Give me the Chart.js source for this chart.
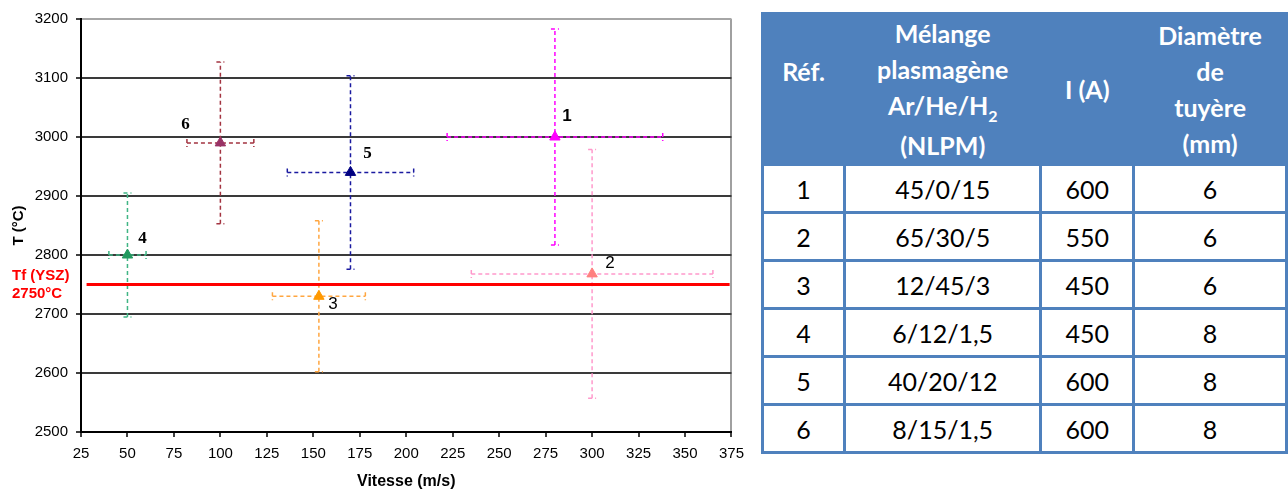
<!DOCTYPE html>
<html>
<head>
<meta charset="utf-8">
<script src="https://cdn.jsdelivr.net/npm/chart.js@4.4.1/dist/chart.umd.min.js"></script>
<style>
  html, body { margin: 0; padding: 0; background: #fff; }
  body { width: 1288px; height: 491px; position: relative; overflow: hidden; }
  #chart { position: absolute; left: 0; top: 0; }
  table { position: absolute; left: 761px; top: 12px; border-collapse: collapse; table-layout: fixed;
          font-family: Lato, sans-serif; font-size: 25px; }
  th, td { border: 3px solid #4F81BD; text-align: center; padding: 0; }
  th { background: #4F81BD; color: #fff; font-weight: bold; line-height: 36px; height: 144px; }
  td { height: 45px; color: #000; }
  .sub { font-size: 16px; position: relative; top: 7px; }
</style>
</head>
<body>
<canvas id="chart" width="752" height="491"></canvas>
<table id="refs">
  <colgroup><col style="width:83px"><col style="width:198px"><col style="width:94px"><col style="width:154px"></colgroup>
  <thead>
    <tr>
      <th>Réf.<br>&nbsp;</th>
      <th>Mélange<br>plasmagène<br>Ar/He/H<span class="sub">2</span><br>(NLPM)</th>
      <th>I (A)</th>
      <th>Diamètre<br>de<br>tuyère<br>(mm)</th>
    </tr>
  </thead>
  <tbody></tbody>
</table>
<script>
// essais (chart + table)
const refs = ['1', '2', '3', '4', '5', '6'];
const vitesse = [280, 300, 153, 50, 170, 100];          // m/s
const temperature = [3000, 2768, 2730, 2800, 2940, 2990]; // °C
const errVitesse = [58, 65, 25, 10, 34, 18];
const errTemp = [183, 211, 128, 105, 164, 137];

// fusion YSZ
const tfYsz = 2750;
const tfRange = [28, 374];
const tfLabels = ['Tf (YSZ)', '2750°C'];

// table columns
const melange = ['45/0/15', '65/30/5', '12/45/3', '6/12/1,5', '40/20/12', '8/15/1,5'];
const courant = [600, 550, 450, 450, 600, 600];
const diametre = [6, 6, 6, 8, 8, 8];

const markColors = ['#FF00FF', '#FF8080', '#FF9900', '#22995F', '#000080', '#993366'];
const barColors = ['#FF00FF', '#FF99CC', '#FFA640', '#40B585', '#1A1AA0', '#A33340'];

const arial = '"Liberation Sans", Arial, sans-serif';
const times = '"Liberation Serif", "Times New Roman", serif';
const labelStyle = [
  { dx: 12, dy: -21, font: 'bold 17px ' + arial },
  { dx: 18, dy: -11, font: '17px ' + arial },
  { dx: 14, dy: 8, font: '17px ' + arial },
  { dx: 15, dy: -16, font: 'bold 17px ' + times },
  { dx: 17, dy: -19, font: 'bold 17px ' + times },
  { dx: -35, dy: -18, font: 'bold 17px ' + times },
];

const tbody = document.querySelector('#refs tbody');
refs.forEach((r, i) => {
  const tr = document.createElement('tr');
  [r, melange[i], courant[i], diametre[i]].forEach((v) => {
    const td = document.createElement('td');
    td.textContent = v;
    tr.appendChild(td);
  });
  tbody.appendChild(tr);
});

const errorBars = {
  id: 'errorBars',
  beforeDatasetsDraw(chart) {
    const { ctx, scales: { x, y } } = chart;
    const cap = 4;
    ctx.save();
    ctx.lineWidth = 1.5;
    ctx.setLineDash([4, 3]);
    vitesse.forEach((v, i) => {
      const px = x.getPixelForValue(v);
      const py = y.getPixelForValue(temperature[i]);
      const x0 = x.getPixelForValue(v - errVitesse[i]);
      const x1 = x.getPixelForValue(v + errVitesse[i]);
      const y0 = y.getPixelForValue(temperature[i] - errTemp[i]);
      const y1 = y.getPixelForValue(temperature[i] + errTemp[i]);
      ctx.strokeStyle = barColors[i];
      ctx.beginPath();
      ctx.moveTo(x0, py); ctx.lineTo(x1, py);
      ctx.moveTo(px, y0); ctx.lineTo(px, y1);
      ctx.moveTo(x0, py - cap); ctx.lineTo(x0, py + cap);
      ctx.moveTo(x1, py - cap); ctx.lineTo(x1, py + cap);
      ctx.moveTo(px - cap, y0); ctx.lineTo(px + cap, y0);
      ctx.moveTo(px - cap, y1); ctx.lineTo(px + cap, y1);
      ctx.stroke();
    });
    ctx.restore();
  },
  afterDatasetsDraw(chart) {
    const { ctx, scales: { x, y } } = chart;
    ctx.save();
    ctx.textAlign = 'center';
    ctx.textBaseline = 'middle';
    ctx.fillStyle = '#000';
    refs.forEach((r, i) => {
      const s = labelStyle[i];
      ctx.font = s.font;
      ctx.fillText(r, x.getPixelForValue(vitesse[i]) + s.dx, y.getPixelForValue(temperature[i]) + s.dy);
    });
    // melting point label, left of the axis
    const ty = y.getPixelForValue(tfYsz);
    ctx.textAlign = 'left';
    ctx.fillStyle = '#FF0000';
    ctx.font = 'bold 15px ' + arial;
    ctx.fillText(tfLabels[0], 12, ty - 9);
    ctx.fillText(tfLabels[1], 12, ty + 9);
    ctx.restore();
  },
};

new Chart(document.getElementById('chart'), {
  type: 'scatter',
  data: {
    datasets: [
      {
        type: 'line',
        data: tfRange.map((v) => ({ x: v, y: tfYsz })),
        borderColor: '#FF0000',
        borderWidth: 3,
        pointRadius: 0,
      },
      {
        data: vitesse.map((v, i) => ({ x: v, y: temperature[i] })),
        pointStyle: 'triangle',
        pointRadius: 6,
        backgroundColor: markColors,
        borderColor: markColors,
        borderWidth: 1,
      },
    ],
  },
  options: {
    responsive: false,
    animation: false,
    devicePixelRatio: 1,
    events: [],
    layout: { padding: { top: 19, right: 0, left: 0, bottom: 0 } },
    plugins: { legend: { display: false }, tooltip: { enabled: false } },
    scales: {
      x: {
        type: 'linear',
        min: 25,
        max: 375,
        afterFit: (s) => { s.height = 59; },
        ticks: { stepSize: 25, color: '#000', padding: 8, font: { family: arial, size: 15 }, callback: (v) => String(v) },
        grid: {
          color: (c) => (c.tick && c.tick.value === 375 ? '#A0A0A0' : 'rgba(0,0,0,0)'),
          lineWidth: 2,
          tickColor: '#000',
          tickLength: 5,
          tickWidth: 1.5,
        },
        border: { color: '#000', width: 2 },
        title: {
          display: true,
          text: 'Vitesse (m/s)',
          color: '#000',
          padding: { top: 0, bottom: 0 },
          font: { family: arial, size: 16, weight: 'bold' },
        },
      },
      y: {
        min: 2500,
        max: 3200,
        afterFit: (s) => { s.width = 81; },
        ticks: { stepSize: 100, color: '#000', padding: 8, font: { family: arial, size: 15 }, callback: (v) => String(v) },
        grid: {
          color: (c) => (c.tick && c.tick.value === 3200 ? '#A6A6A6' : '#3A3A3A'),
          lineWidth: 2,
          tickColor: '#000',
          tickLength: 5,
          tickWidth: 1.5,
        },
        border: { color: '#000', width: 2 },
        title: {
          display: true,
          text: 'T (°C)',
          color: '#000',
          padding: { top: 10, bottom: 0 },
          font: { family: arial, size: 15, weight: 'bold' },
        },
      },
    },
  },
  plugins: [errorBars],
});
</script>
</body>
</html>
